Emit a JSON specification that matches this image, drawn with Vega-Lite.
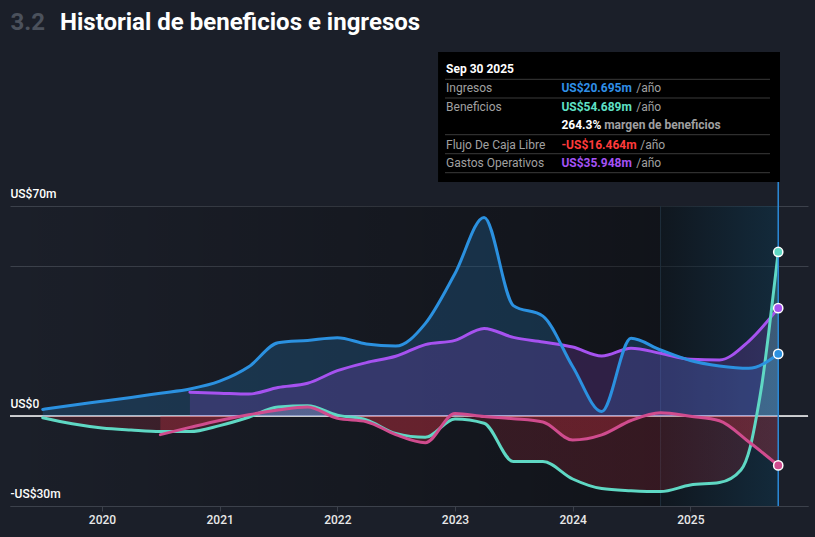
{
  "$schema": "https://vega.github.io/schema/vega-lite/v6.json",
  "width": 798,
  "height": 300,
  "autosize": {"type": "none"},
  "padding": {"left": 10, "top": 206, "right": 7, "bottom": 31},
  "background": "#1b1f29",
  "config": {"view": {"stroke": null}, "font": "Roboto"},
  "title": {
    "text": "Historial de beneficios e ingresos",
    "anchor": "start",
    "frame": "group",
    "dx": 50,
    "offset": -44,
    "baseline": "alphabetic",
    "fontSize": 24,
    "fontWeight": "bold",
    "color": "#ffffff",
    "font": "Roboto"
  },
  "datasets": {
    "series": [
      {"serie": "Gastos Operativos", "anio": 2020.747, "valor": 7.9},
      {"serie": "Gastos Operativos", "anio": 2021.0, "valor": 7.6},
      {"serie": "Gastos Operativos", "anio": 2021.247, "valor": 7.3},
      {"serie": "Gastos Operativos", "anio": 2021.496, "valor": 9.5},
      {"serie": "Gastos Operativos", "anio": 2021.747, "valor": 10.9},
      {"serie": "Gastos Operativos", "anio": 2022.0, "valor": 15.1},
      {"serie": "Gastos Operativos", "anio": 2022.247, "valor": 17.8},
      {"serie": "Gastos Operativos", "anio": 2022.496, "valor": 19.9},
      {"serie": "Gastos Operativos", "anio": 2022.747, "valor": 23.8},
      {"serie": "Gastos Operativos", "anio": 2023.0, "valor": 25.2},
      {"serie": "Gastos Operativos", "anio": 2023.247, "valor": 29.2},
      {"serie": "Gastos Operativos", "anio": 2023.496, "valor": 26.2},
      {"serie": "Gastos Operativos", "anio": 2023.747, "valor": 24.7},
      {"serie": "Gastos Operativos", "anio": 2024.0, "valor": 23.0},
      {"serie": "Gastos Operativos", "anio": 2024.247, "valor": 20.0},
      {"serie": "Gastos Operativos", "anio": 2024.496, "valor": 22.6},
      {"serie": "Gastos Operativos", "anio": 2024.747, "valor": 20.9},
      {"serie": "Gastos Operativos", "anio": 2025.0, "valor": 18.9},
      {"serie": "Gastos Operativos", "anio": 2025.247, "valor": 18.7},
      {"serie": "Gastos Operativos", "anio": 2025.496, "valor": 24.9},
      {"serie": "Gastos Operativos", "anio": 2025.747, "valor": 35.948},
      {"serie": "Beneficios", "anio": 2019.496, "valor": -0.6},
      {"serie": "Beneficios", "anio": 2019.747, "valor": -2.6},
      {"serie": "Beneficios", "anio": 2020.0, "valor": -4.0},
      {"serie": "Beneficios", "anio": 2020.247, "valor": -4.7},
      {"serie": "Beneficios", "anio": 2020.496, "valor": -5.2},
      {"serie": "Beneficios", "anio": 2020.747, "valor": -5.2},
      {"serie": "Beneficios", "anio": 2021.0, "valor": -3.2},
      {"serie": "Beneficios", "anio": 2021.247, "valor": -0.4},
      {"serie": "Beneficios", "anio": 2021.496, "valor": 3.0},
      {"serie": "Beneficios", "anio": 2021.747, "valor": 3.4},
      {"serie": "Beneficios", "anio": 2022.0, "valor": 0.3},
      {"serie": "Beneficios", "anio": 2022.247, "valor": -1.3},
      {"serie": "Beneficios", "anio": 2022.496, "valor": -5.8},
      {"serie": "Beneficios", "anio": 2022.747, "valor": -7.1},
      {"serie": "Beneficios", "anio": 2023.0, "valor": -1.0},
      {"serie": "Beneficios", "anio": 2023.247, "valor": -2.4},
      {"serie": "Beneficios", "anio": 2023.496, "valor": -15.2},
      {"serie": "Beneficios", "anio": 2023.747, "valor": -15.2},
      {"serie": "Beneficios", "anio": 2024.0, "valor": -21.0},
      {"serie": "Beneficios", "anio": 2024.247, "valor": -24.2},
      {"serie": "Beneficios", "anio": 2024.496, "valor": -24.9},
      {"serie": "Beneficios", "anio": 2024.747, "valor": -25.2},
      {"serie": "Beneficios", "anio": 2025.0, "valor": -23.0},
      {"serie": "Beneficios", "anio": 2025.247, "valor": -22.2},
      {"serie": "Beneficios", "anio": 2025.43, "valor": -18.0},
      {"serie": "Beneficios", "anio": 2025.51, "valor": -10.2},
      {"serie": "Beneficios", "anio": 2025.567, "valor": 0.9},
      {"serie": "Beneficios", "anio": 2025.61, "valor": 11.0},
      {"serie": "Beneficios", "anio": 2025.666, "valor": 27.7},
      {"serie": "Beneficios", "anio": 2025.747, "valor": 54.689},
      {"serie": "Flujo De Caja Libre", "anio": 2020.496, "valor": -6.2},
      {"serie": "Flujo De Caja Libre", "anio": 2020.747, "valor": -3.8},
      {"serie": "Flujo De Caja Libre", "anio": 2021.0, "valor": -1.5},
      {"serie": "Flujo De Caja Libre", "anio": 2021.247, "valor": 0.4},
      {"serie": "Flujo De Caja Libre", "anio": 2021.496, "valor": 2.0},
      {"serie": "Flujo De Caja Libre", "anio": 2021.747, "valor": 3.0},
      {"serie": "Flujo De Caja Libre", "anio": 2022.0, "valor": -0.8},
      {"serie": "Flujo De Caja Libre", "anio": 2022.247, "valor": -1.9},
      {"serie": "Flujo De Caja Libre", "anio": 2022.496, "valor": -6.2},
      {"serie": "Flujo De Caja Libre", "anio": 2022.747, "valor": -8.9},
      {"serie": "Flujo De Caja Libre", "anio": 2023.0, "valor": 0.8},
      {"serie": "Flujo De Caja Libre", "anio": 2023.247, "valor": -0.2},
      {"serie": "Flujo De Caja Libre", "anio": 2023.496, "valor": -0.9},
      {"serie": "Flujo De Caja Libre", "anio": 2023.747, "valor": -2.0},
      {"serie": "Flujo De Caja Libre", "anio": 2024.0, "valor": -8.0},
      {"serie": "Flujo De Caja Libre", "anio": 2024.247, "valor": -6.3},
      {"serie": "Flujo De Caja Libre", "anio": 2024.496, "valor": -1.5},
      {"serie": "Flujo De Caja Libre", "anio": 2024.747, "valor": 1.1},
      {"serie": "Flujo De Caja Libre", "anio": 2025.0, "valor": -0.1},
      {"serie": "Flujo De Caja Libre", "anio": 2025.247, "valor": -1.6},
      {"serie": "Flujo De Caja Libre", "anio": 2025.496, "valor": -8.6},
      {"serie": "Flujo De Caja Libre", "anio": 2025.747, "valor": -16.464},
      {"serie": "Ingresos", "anio": 2019.496, "valor": 2.2},
      {"serie": "Ingresos", "anio": 2019.747, "valor": 3.6},
      {"serie": "Ingresos", "anio": 2020.0, "valor": 4.9},
      {"serie": "Ingresos", "anio": 2020.247, "valor": 6.2},
      {"serie": "Ingresos", "anio": 2020.496, "valor": 7.6},
      {"serie": "Ingresos", "anio": 2020.747, "valor": 9.0},
      {"serie": "Ingresos", "anio": 2021.0, "valor": 11.6},
      {"serie": "Ingresos", "anio": 2021.247, "valor": 16.4},
      {"serie": "Ingresos", "anio": 2021.496, "valor": 24.4},
      {"serie": "Ingresos", "anio": 2021.747, "valor": 25.2},
      {"serie": "Ingresos", "anio": 2022.0, "valor": 26.1},
      {"serie": "Ingresos", "anio": 2022.247, "valor": 24.0},
      {"serie": "Ingresos", "anio": 2022.496, "valor": 23.3},
      {"serie": "Ingresos", "anio": 2022.747, "valor": 30.8},
      {"serie": "Ingresos", "anio": 2023.0, "valor": 47.5},
      {"serie": "Ingresos", "anio": 2023.247, "valor": 66.2},
      {"serie": "Ingresos", "anio": 2023.496, "valor": 36.8},
      {"serie": "Ingresos", "anio": 2023.747, "valor": 33.3},
      {"serie": "Ingresos", "anio": 2024.0, "valor": 16.5},
      {"serie": "Ingresos", "anio": 2024.247, "valor": 1.5},
      {"serie": "Ingresos", "anio": 2024.496, "valor": 25.9},
      {"serie": "Ingresos", "anio": 2024.747, "valor": 22.0},
      {"serie": "Ingresos", "anio": 2025.0, "valor": 18.5},
      {"serie": "Ingresos", "anio": 2025.247, "valor": 16.7},
      {"serie": "Ingresos", "anio": 2025.496, "valor": 15.9},
      {"serie": "Ingresos", "anio": 2025.747, "valor": 20.695}
    ],
    "tooltip": [
      {"texto": "Sep 30 2025", "clase": "fecha", "anio": 2022.924, "valor": 115.8},
      {"texto": "Ingresos", "clase": "etiqueta", "anio": 2022.924, "valor": 109.2},
      {"texto": "Beneficios", "clase": "etiqueta", "anio": 2022.924, "valor": 102.9},
      {"texto": "Flujo De Caja Libre", "clase": "etiqueta", "anio": 2022.924, "valor": 90.5},
      {"texto": "Gastos Operativos", "clase": "etiqueta", "anio": 2022.924, "valor": 84.2},
      {"texto": "US$20.695m", "clase": "ingresos", "anio": 2023.904, "valor": 109.2},
      {"texto": "US$54.689m", "clase": "beneficios", "anio": 2023.904, "valor": 102.9},
      {"texto": "264.3%", "clase": "margen_pct", "anio": 2023.904, "valor": 97.0},
      {"texto": "margen de beneficios", "clase": "margen_txt", "anio": 2024.268, "valor": 97.0},
      {"texto": "-US$16.464m", "clase": "fcf", "anio": 2023.904, "valor": 90.5},
      {"texto": "US$35.948m", "clase": "gastos", "anio": 2023.904, "valor": 84.2},
      {"texto": "/año", "clase": "unidad", "anio": 2024.54, "valor": 109.2},
      {"texto": "/año", "clase": "unidad", "anio": 2024.54, "valor": 102.9},
      {"texto": "/año", "clase": "unidad", "anio": 2024.574, "valor": 90.5},
      {"texto": "/año", "clase": "unidad", "anio": 2024.54, "valor": 84.2}
    ],
    "separadores": [
      {"anio": 2022.915, "anio2": 2025.677, "valor": 112.23},
      {"anio": 2022.915, "anio2": 2025.677, "valor": 106.0},
      {"anio": 2022.915, "anio2": 2025.677, "valor": 93.77},
      {"anio": 2022.915, "anio2": 2025.677, "valor": 87.43},
      {"anio": 2022.915, "anio2": 2025.677, "valor": 81.1}
    ]
  },
  "resolve": {"scale": {"color": "independent"}},
  "layer": [
    {
      "data": {"values": [{}]},
      "mark": {"type": "rect", "fill": {"gradient": "linear", "x1": 0, "y1": 0, "x2": 1, "y2": 0, "stops": [{"offset": 0, "color": "rgba(0,0,0,0)"}, {"offset": 1, "color": "rgba(0,0,0,0.38)"}]}},
      "encoding": {
        "x": {"datum": 2019.218, "type": "quantitative",
          "scale": {"domain": [2019.218, 2026.0], "nice": false, "zero": false},
          "axis": {"values": [2020, 2021, 2022, 2023, 2024, 2025], "format": "d", "title": null, "grid": false, "domain": true, "domainColor": "#3c414b", "ticks": true, "tickColor": "#3c414b", "tickSize": 5, "labelColor": "#e8e8e8", "labelFontSize": 12, "labelFontWeight": 500, "labelPadding": 3, "labelFlush": false, "labelFont": "Roboto"}},
        "x2": {"datum": 2024.747},
        "y": {"datum": -30, "type": "quantitative",
          "scale": {"domain": [-30, 70], "nice": false, "zero": false},
          "axis": {"values": [-30, 0, 50, 70], "title": "3.2", "grid": true, "gridColor": "#3c414b", "gridWidth": 1, "domain": false, "ticks": false, "tickSize": 0, "labelAlign": "left", "labelBaseline": "alphabetic", "labelPadding": 0, "labelOffset": -9, "labelColor": "#ffffff", "labelFontSize": 12, "labelFontWeight": 500, "labelFont": "Roboto", "labelFlush": false,
            "labelExpr": "datum.value == 50 ? '' : (datum.value == 0 ? 'US$0' : (datum.value < 0 ? '-US$' + abs(datum.value) + 'm' : 'US$' + datum.value + 'm'))",
            "titleAngle": 0, "titleAlign": "left", "titleBaseline": "alphabetic", "titleX": 0, "titleY": -177, "titleColor": "#4b515c", "titleFontSize": 24, "titleFontWeight": "bold", "titleFont": "Roboto"}},
        "y2": {"datum": 70}
      }
    },
    {
      "data": {"values": [{}]},
      "mark": {"type": "rect", "fill": {"gradient": "linear", "x1": 0, "y1": 0, "x2": 1, "y2": 0, "stops": [{"offset": 0, "color": "rgba(5,15,21,0.5)"}, {"offset": 1, "color": "rgba(11,53,77,0.5)"}]}},
      "encoding": {
        "x": {"datum": 2024.747, "type": "quantitative"},
        "x2": {"datum": 2025.747},
        "y": {"datum": -30, "type": "quantitative"},
        "y2": {"datum": 70}
      }
    },
    {
      "data": {"values": [{}]},
      "mark": {"type": "rule", "color": "#1e2e3c", "strokeWidth": 1},
      "encoding": {
        "x": {"datum": 2024.747, "type": "quantitative"},
        "y": {"datum": -30, "type": "quantitative"},
        "y2": {"datum": 70}
      }
    },
    {
      "data": {"values": [{}]},
      "mark": {"type": "rule", "color": "#ffffff", "strokeWidth": 1.5},
      "encoding": {"y": {"datum": 0, "type": "quantitative"}}
    },
    {
      "data": {"name": "series"},
      "transform": [{"filter": "datum.serie == 'Ingresos'"}],
      "mark": {"type": "area", "interpolate": "monotone", "color": "#2b91e0", "fillOpacity": 0.22},
      "encoding": {
        "x": {"field": "anio", "type": "quantitative"},
        "y": {"field": "valor", "type": "quantitative"},
        "y2": {"datum": 0}
      }
    },
    {
      "data": {"name": "series"},
      "transform": [{"filter": "datum.serie == 'Gastos Operativos'"}],
      "mark": {"type": "area", "interpolate": "monotone", "color": "#a652f0", "fillOpacity": 0.2},
      "encoding": {
        "x": {"field": "anio", "type": "quantitative"},
        "y": {"field": "valor", "type": "quantitative"},
        "y2": {"datum": 0}
      }
    },
    {
      "data": {"name": "series"},
      "transform": [{"filter": "datum.serie == 'Beneficios'"}],
      "mark": {"type": "area", "interpolate": "monotone", "fillOpacity": 0.25, "fill": {"gradient": "linear", "x1": 0, "y1": 0, "x2": 0, "y2": 1, "stops": [{"offset": 0, "color": "#5fd8c4"}, {"offset": 0.684, "color": "#5fd8c4"}, {"offset": 0.685, "color": "#a02838"}, {"offset": 1, "color": "#a02838"}]}},
      "encoding": {
        "x": {"field": "anio", "type": "quantitative"},
        "y": {"field": "valor", "type": "quantitative"},
        "y2": {"datum": 0}
      }
    },
    {
      "data": {"name": "series"},
      "transform": [{"filter": "datum.serie == 'Flujo De Caja Libre'"}],
      "mark": {"type": "area", "interpolate": "monotone", "fillOpacity": 0.3, "fill": {"gradient": "linear", "x1": 0, "y1": 0, "x2": 0, "y2": 1, "stops": [{"offset": 0, "color": "#8a6ab0"}, {"offset": 0.153, "color": "#8a6ab0"}, {"offset": 0.155, "color": "#d03040"}, {"offset": 1, "color": "#d03040"}]}},
      "encoding": {
        "x": {"field": "anio", "type": "quantitative"},
        "y": {"field": "valor", "type": "quantitative"},
        "y2": {"datum": 0}
      }
    },
    {
      "data": {"name": "series"},
      "mark": {"type": "line", "interpolate": "monotone", "strokeWidth": 3, "strokeCap": "round", "strokeJoin": "round"},
      "encoding": {
        "x": {"field": "anio", "type": "quantitative"},
        "y": {"field": "valor", "type": "quantitative"},
        "color": {"field": "serie", "type": "nominal", "legend": null,
          "scale": {"domain": ["Ingresos", "Beneficios", "Flujo De Caja Libre", "Gastos Operativos"], "range": ["#2b91e0", "#5fd8c4", "#d04c8e", "#a652f0"]}}
      }
    },
    {
      "data": {"values": [{}]},
      "mark": {"type": "rule", "color": "#2b8ad8", "strokeWidth": 1.5},
      "encoding": {
        "x": {"datum": 2025.747, "type": "quantitative"},
        "y": {"datum": -30, "type": "quantitative"},
        "y2": {"datum": 78}
      }
    },
    {
      "data": {"name": "series"},
      "transform": [{"filter": "datum.anio > 2025.74"}],
      "mark": {"type": "circle", "size": 85, "opacity": 1, "stroke": "#ffffff", "strokeWidth": 1.5},
      "encoding": {
        "x": {"field": "anio", "type": "quantitative"},
        "y": {"field": "valor", "type": "quantitative"},
        "color": {"field": "serie", "type": "nominal", "legend": null,
          "scale": {"domain": ["Ingresos", "Beneficios", "Flujo De Caja Libre", "Gastos Operativos"], "range": ["#2b91e0", "#5fd8c4", "#d04c8e", "#a652f0"]}}
      }
    },
    {
      "data": {"values": [{}]},
      "mark": {"type": "rect", "fill": "#000000"},
      "encoding": {
        "x": {"datum": 2022.856, "type": "quantitative"},
        "x2": {"datum": 2025.762},
        "y": {"datum": 121.33, "type": "quantitative"},
        "y2": {"datum": 78}
      }
    },
    {
      "data": {"name": "separadores"},
      "mark": {"type": "rule", "color": "#3a3a3a", "strokeWidth": 1},
      "encoding": {
        "x": {"field": "anio", "type": "quantitative"},
        "x2": {"field": "anio2"},
        "y": {"field": "valor", "type": "quantitative"}
      }
    },
    {
      "data": {"name": "tooltip"},
      "transform": [{"filter": "datum.clase == 'etiqueta' || datum.clase == 'unidad'"}],
      "mark": {"type": "text", "align": "left", "baseline": "middle", "fontSize": 12, "font": "Roboto", "color": "#a0a0a0"},
      "encoding": {
        "x": {"field": "anio", "type": "quantitative"},
        "y": {"field": "valor", "type": "quantitative"},
        "text": {"field": "texto"}
      }
    },
    {
      "data": {"name": "tooltip"},
      "transform": [{"filter": "datum.clase != 'etiqueta' && datum.clase != 'unidad'"}],
      "mark": {"type": "text", "align": "left", "baseline": "middle", "fontSize": 12, "font": "Roboto", "fontWeight": "bold"},
      "encoding": {
        "x": {"field": "anio", "type": "quantitative"},
        "y": {"field": "valor", "type": "quantitative"},
        "text": {"field": "texto"},
        "color": {"field": "clase", "type": "nominal", "legend": null,
          "scale": {"domain": ["fecha", "ingresos", "beneficios", "margen_pct", "margen_txt", "fcf", "gastos"], "range": ["#ffffff", "#2f8fe8", "#5fe0c6", "#ffffff", "#a0a0a0", "#ff3b3b", "#a552f5"]}}
      }
    }
  ]
}
